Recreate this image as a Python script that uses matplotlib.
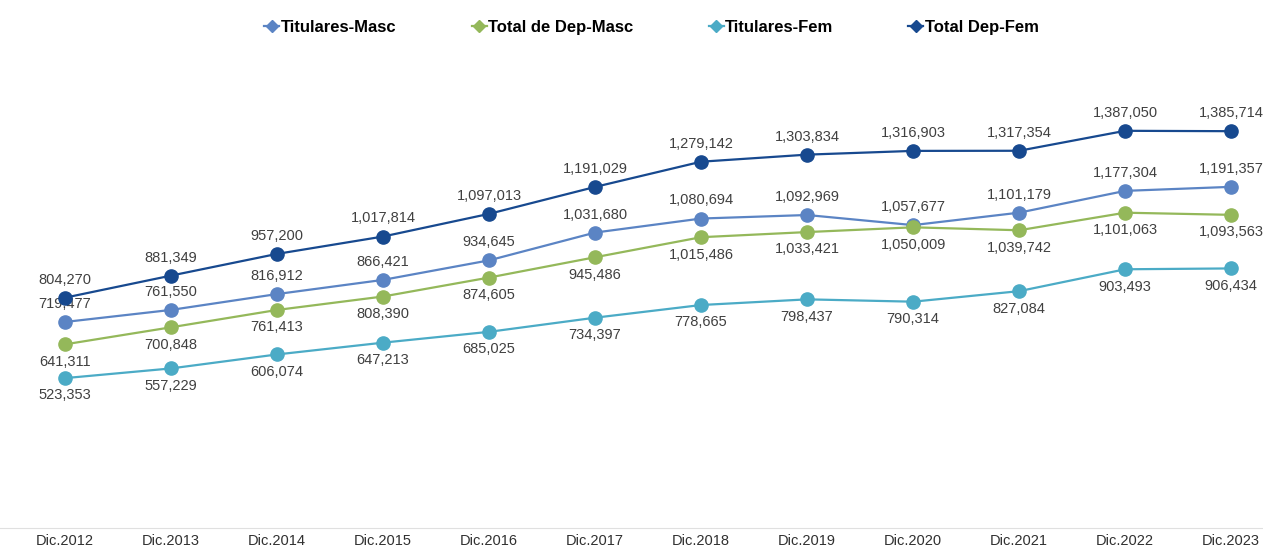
import matplotlib
matplotlib.use("Agg")
import matplotlib.pyplot as plt
from matplotlib.lines import Line2D

categories = ["Dic.2012", "Dic.2013", "Dic.2014", "Dic.2015", "Dic.2016", "Dic.2017",
              "Dic.2018", "Dic.2019", "Dic.2020", "Dic.2021", "Dic.2022", "Dic.2023"]
titulares_masc = [719477, 761550, 816912, 866421, 934645, 1031680, 1080694, 1092969,
                  1057677, 1101179, 1177304, 1191357]
total_dep_masc = [641311, 700848, 761413, 808390, 874605, 945486, 1015486, 1033421,
                  1050009, 1039742, 1101063, 1093563]
titulares_fem = [523353, 557229, 606074, 647213, 685025, 734397, 778665, 798437,
                 790314, 827084, 903493, 906434]
total_dep_fem = [804270, 881349, 957200, 1017814, 1097013, 1191029, 1279142, 1303834,
                 1316903, 1317354, 1387050, 1385714]

series = [
    ("Titulares-Masc", titulares_masc, "#5B84C4", "above"),
    ("Total de Dep-Masc", total_dep_masc, "#94B85A", "below"),
    ("Titulares-Fem", titulares_fem, "#4BABC6", "below"),
    ("Total Dep-Fem", total_dep_fem, "#17498F", "above"),
]

plt.rcParams['font.family'] = ['Liberation Sans', 'DejaVu Sans']

fig = plt.figure(figsize=(12.63, 5.52), dpi=100)
ax = fig.add_axes([0.0, 0.0435, 1.0, 0.830])
x = list(range(len(categories)))

for name, vals, color, pos in series:
    ax.plot(x, vals, color=color, lw=1.6, marker="o", markersize=9.5, zorder=3)
    for xi, v in zip(x, vals):
        dy = 13 if pos == "above" else -12.5
        ax.annotate(f"{v:,}", (xi, v), xytext=(0, dy), textcoords="offset points",
                    ha="center", va="center",
                    fontsize=10.5, color="#404040")

ax.set_xlim(-0.613, 11.30)
ax.set_ylim(0, 1600000)
ax.set_xticks(x)
ax.set_xticklabels(categories, fontsize=10.5, color="#303030")
ax.tick_params(axis="x", length=0, pad=4)
ax.set_yticks([])
for s in ["top", "right", "left"]:
    ax.spines[s].set_visible(False)
ax.spines["bottom"].set_color("#E0E0E0")

handles = [Line2D([0], [0], color=c, lw=1.6, marker="D", markersize=6.5) for _, _, c, _ in series]
labels = [n for n, _, _, _ in series]
leg = fig.legend(handles, labels, loc="center", bbox_to_anchor=(0.516, 0.951), ncol=4,
                 frameon=False, handlelength=0.9, handletextpad=0.1, columnspacing=4.5,
                 prop={"weight": "bold", "size": 12})

fig.savefig("out.png", dpi=100)
